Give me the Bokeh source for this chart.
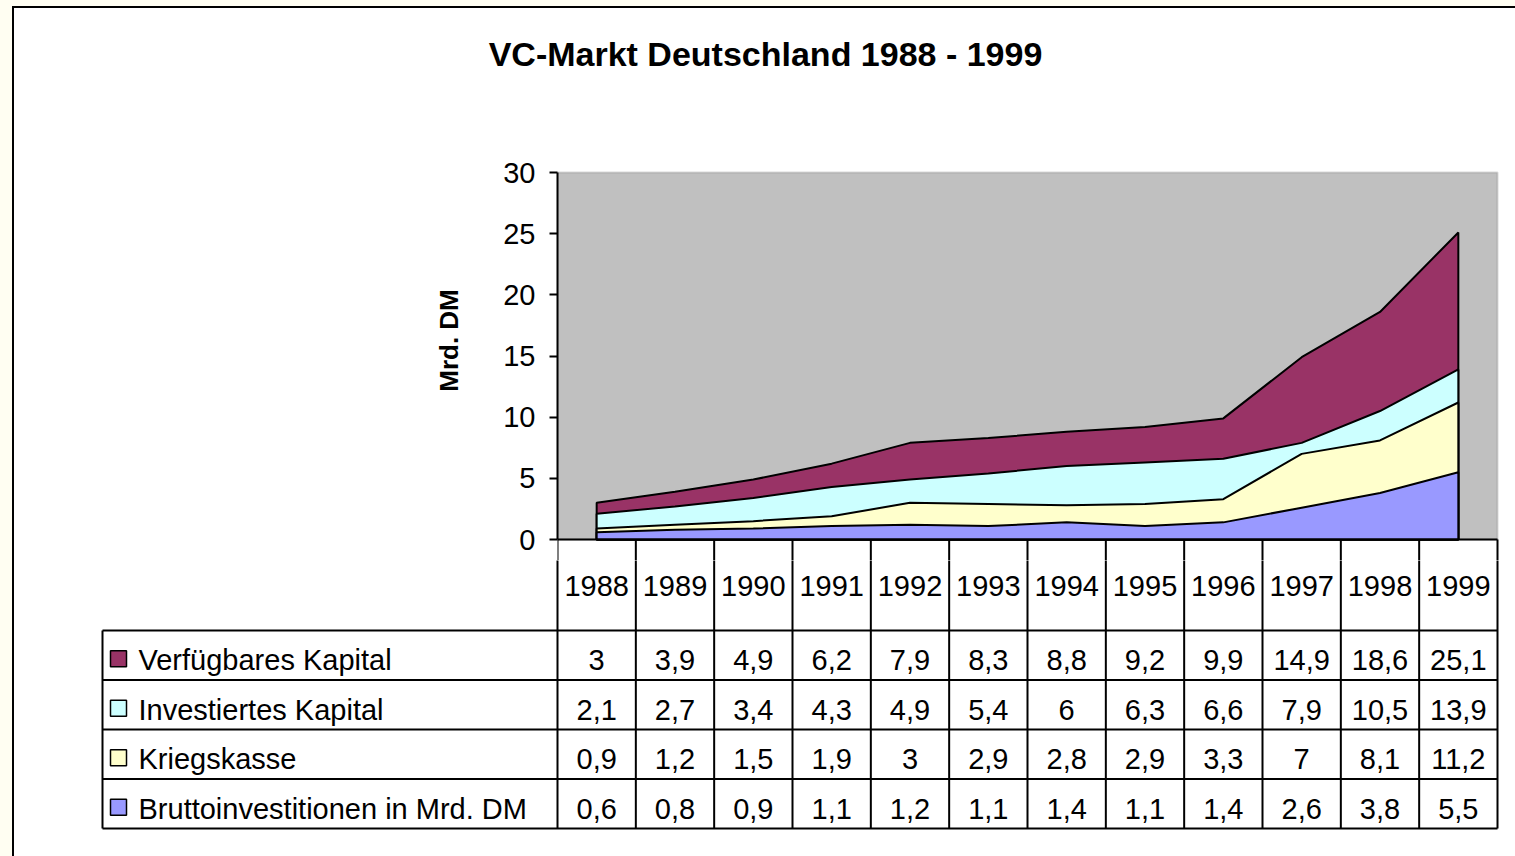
from bokeh.plotting import figure
from bokeh.layouts import column
from bokeh.models import Range1d, LinearAxis, FixedTicker, BoxAnnotation
from bokeh.core.properties import value
from bokeh.embed import file_html
from bokeh.resources import INLINE

# ---------------- data ----------------
years = ["1988", "1989", "1990", "1991", "1992", "1993", "1994", "1995", "1996", "1997", "1998", "1999"]
verfuegbar = [3, 3.9, 4.9, 6.2, 7.9, 8.3, 8.8, 9.2, 9.9, 14.9, 18.6, 25.1]
investiert = [2.1, 2.7, 3.4, 4.3, 4.9, 5.4, 6, 6.3, 6.6, 7.9, 10.5, 13.9]
kriegskasse = [0.9, 1.2, 1.5, 1.9, 3, 2.9, 2.8, 2.9, 3.3, 7, 8.1, 11.2]
brutto = [0.6, 0.8, 0.9, 1.1, 1.2, 1.1, 1.4, 1.1, 1.4, 2.6, 3.8, 5.5]
series_names = ["Verfügbares Kapital", "Investiertes Kapital", "Kriegskasse", "Bruttoinvestitionen in Mrd. DM"]
series_colors = ["#993366", "#CCFFFF", "#FFFFCC", "#9999FF"]
y_ticks = [0, 5, 10, 15, 20, 25, 30]
title_text = "VC-Markt Deutschland 1988 - 1999"
y_label = "Mrd. DM"

series_values = [verfuegbar, investiert, kriegskasse, brutto]
FONT = "Liberation Sans"
TXT = "29px"
n = len(years)
centers = [i + 0.5 for i in range(n)]
bounds_x = list(range(n + 1))

# page geometry (content box starts at x=14, y=8; extends past the window edge like the reference)
W = 1516
col_px = 940 / n          # pixels per category column
px_per_unit = 367 / 30.0  # pixels per value unit
row_px = 49.5             # pixels per table row
RB = W - (1499 - 14)      # right border width so frames end at page x=1499


def base_fig(height, xr, yr, **kw):
    p = figure(width=W, height=height, output_backend="svg", toolbar_location=None,
               x_range=xr, y_range=yr, x_axis_location=None, y_axis_location=None, **kw)
    p.grid.grid_line_color = None
    p.outline_line_color = None
    p.background_fill_color = "white"
    p.border_fill_color = "white"
    p.frame_align = False
    return p


# ---------------- title strip ----------------
pT = base_fig(112, Range1d(0, W), Range1d(0, 112),
              min_border_left=0, min_border_right=0, min_border_top=0, min_border_bottom=0)
pT.text(x=[765 - 14], y=[112 - (53 - 8)], text=[title_text], text_align="center", text_baseline="middle",
        text_font=value(FONT), text_font_size="34px", text_font_style="bold", text_color="black")

# ---------------- chart ----------------
pA = base_fig(440, Range1d(0, n + 2 / col_px),
              Range1d(-(560 - 539) / px_per_unit, 30 + (172 - 120) / px_per_unit),
              min_border_left=557 - 14, min_border_right=RB, min_border_top=0, min_border_bottom=0)

pA.add_layout(BoxAnnotation(left=0, right=n, bottom=0, top=30, fill_color="#C0C0C0", fill_alpha=1,
                            line_color="#808080", line_width=2, level="underlay"))

for vals, col in zip(series_values, series_colors):
    xs = [centers[0]] + centers + [centers[-1]]
    ys = [0] + list(vals) + [0]
    pA.patch(xs, ys, fill_color=col, line_color="black", line_width=2)

pA.segment(x0=[0], y0=[0], x1=[n], y1=[0], line_color="black", line_width=2)
ybot = -(560 - 539) / px_per_unit - 0.5
pA.segment(x0=bounds_x, y0=[ybot] * len(bounds_x), x1=bounds_x, y1=[0] * len(bounds_x),
           line_color="black", line_width=2)

yax = LinearAxis(ticker=FixedTicker(ticks=y_ticks), bounds=(0, 30), axis_label=y_label)
yax.axis_line_width = 2
yax.major_tick_line_width = 2
yax.major_tick_out = 8
yax.major_tick_in = 0
yax.minor_tick_out = 0
yax.minor_tick_in = 0
yax.major_label_text_font = FONT
yax.major_label_text_font_size = TXT
yax.major_label_text_color = "black"
yax.major_label_standoff = 14
yax.axis_label_text_font = FONT
yax.axis_label_text_font_size = "26px"
yax.axis_label_text_font_style = "bold"
yax.axis_label_text_color = "black"
yax.axis_label_standoff = 36
pA.add_layout(yax, "left")

# ---------------- data table ----------------
x_left = -(557 - 102) / col_px
pB = base_fig(310, Range1d(-(557 - 100) / col_px, n + 2 / col_px),
              Range1d(-2 / row_px, (828 - 560) / row_px),
              min_border_left=100 - 14, min_border_right=RB, min_border_top=0, min_border_bottom=40)

nrows = len(series_names)
top_end = (828 - 560) / row_px + 0.5
pB.segment(x0=[x_left] * (nrows + 1), y0=list(range(nrows + 1)), x1=[n] * (nrows + 1), y1=list(range(nrows + 1)),
           line_color="black", line_width=2)
pB.segment(x0=bounds_x, y0=[0] * len(bounds_x), x1=bounds_x, y1=[top_end] * len(bounds_x),
           line_color="black", line_width=2)
pB.segment(x0=[x_left], y0=[0], x1=[x_left], y1=[nrows], line_color="black", line_width=2)

pB.text(x=centers, y=[(828 - 585) / row_px] * n, text=years, text_align="center", text_baseline="middle",
        text_font=value(FONT), text_font_size=TXT, text_color="black")

for r, (name, vals, col) in enumerate(zip(series_names, series_values, series_colors)):
    yc = nrows - r - 0.5 - 0.1
    labels = [f"{v:g}".replace(".", ",") for v in vals]
    pB.text(x=centers, y=[yc] * n, text=labels, text_align="center", text_baseline="middle",
            text_font=value(FONT), text_font_size=TXT, text_color="black")
    pB.rect(x=[x_left + 16 / col_px], y=[yc + 0.03], width=16, height=16, width_units="screen",
            height_units="screen", fill_color=col, line_color="black", line_width=1.5)
    pB.text(x=[x_left + 36 / col_px], y=[yc], text=[name], text_align="left", text_baseline="middle",
            text_font=value(FONT), text_font_size=TXT, text_color="black")

lay = column(pT, pA, pB, styles={"border": "2px solid black", "background-color": "white"})

html = file_html(lay, INLINE)
html = html.replace("</head>",
                    "<style>html, body{background-color:#FFFEF2; overflow:hidden;} "
                    "body{padding:6px 0 0 12px !important;}</style></head>", 1)
open("out.html", "w").write(html)
